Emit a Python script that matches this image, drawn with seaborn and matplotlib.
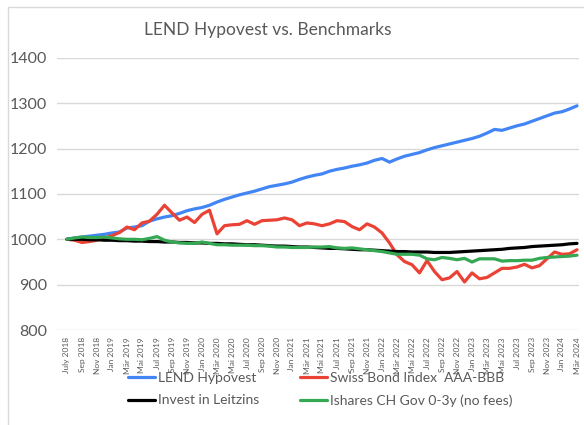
import numpy as np
import pandas as pd
import matplotlib
matplotlib.use("Agg")
import matplotlib.pyplot as plt
import seaborn as sns
from matplotlib.patches import Rectangle

# ---------------- data ----------------
tick_labels = ["July 2018", "Sep 2018", "Nov 2018",
               "Jan 2019", "Mär 2019", "Mai 2019", "Jul 2019", "Sep 2019", "Nov 2019",
               "Jan 2020", "Mär 2020", "Mai 2020", "Jul 2020", "Sep 2020", "Nov 2020",
               "Jan 2021", "Mär 2021", "Mai 2021", "Jul 2021", "Sep 2021", "Nov 2021",
               "Jan 2022", "Mär 2022", "Mai 2022", "Jul 2022", "Sep 2022", "Nov 2022",
               "Jan 2023", "Mär 2023", "Mai 2023", "Jul 2023", "Sep 2023", "Nov 2023",
               "Jan 2024", "Mär 2024"]

lend_hypovest = [1000, 1003, 1005, 1007, 1009, 1011, 1014, 1016, 1025, 1027,
                 1030, 1040, 1045, 1049, 1052, 1057, 1063, 1067, 1070, 1075,
                 1082, 1088, 1093, 1098, 1102, 1106, 1111, 1116, 1119, 1122,
                 1126, 1132, 1137, 1141, 1144, 1150, 1154, 1157, 1161, 1164,
                 1168, 1174, 1178, 1170, 1177, 1183, 1187, 1191, 1197, 1202,
                 1206, 1210, 1214, 1218, 1222, 1227, 1234, 1242, 1240, 1245,
                 1250, 1254, 1260, 1266, 1272, 1278, 1281, 1287, 1294]

swiss_bond = [1000, 998, 993, 995, 998, 1003, 1008, 1015, 1027, 1021,
              1036, 1040, 1055, 1075, 1058, 1042, 1049, 1037, 1055, 1064,
              1012, 1030, 1032, 1033, 1041, 1033, 1041, 1042, 1043, 1047,
              1043, 1030, 1036, 1034, 1030, 1034, 1041, 1039, 1028, 1021,
              1034, 1027, 1014, 992, 966, 951, 944, 926, 953, 929,
              911, 915, 929, 906, 926, 913, 916, 926, 936, 936,
              939, 945, 937, 942, 957, 972, 967, 968, 977]

leitzins = [1000, 1000, 1000, 999, 999, 998, 998, 997, 997, 996,
            996, 995, 995, 994, 994, 993, 993, 992, 992, 991,
            991, 990, 990, 989, 988, 988, 987, 986, 985, 985,
            984, 983, 983, 982, 981, 980, 980, 979, 978, 977,
            977, 976, 975, 974, 973, 973, 972, 972, 972, 971,
            971, 971, 972, 973, 974, 975, 976, 977, 978, 980,
            981, 982, 984, 985, 986, 987, 988, 990, 991]

ishares = [1000, 1003, 1005, 1004, 1004, 1005, 1003, 1001, 1000, 1000,
           999, 1002, 1006, 998, 994, 992, 991, 991, 994, 991,
           988, 988, 987, 987, 987, 986, 986, 985, 983, 983,
           982, 982, 982, 983, 983, 984, 981, 980, 981, 979,
           977, 975, 973, 970, 967, 967, 967, 965, 957, 955,
           960, 958, 955, 958, 950, 957, 957, 957, 952, 953,
           953, 954, 954, 958, 960, 961, 962, 963, 965]

series_names = ["LEND Hypovest", "Swiss Bond Index  AAA-BBB",
                "Invest in Leitzins", "Ishares CH Gov 0-3y (no fees)"]
series_colors = ["#4285F4", "#EA4335", "#000000", "#34A853"]

# ---------------- build table ----------------
n = len(lend_hypovest)
month_idx = np.arange(n)
df = pd.concat([
    pd.DataFrame({"month": month_idx, "value": vals, "series": name})
    for name, vals in zip(series_names, [lend_hypovest, swiss_bond, leitzins, ishares])
], ignore_index=True)

# ---------------- plot ----------------
sns.set_theme(style="white")
plt.rcParams["font.family"] = ["Lato", "DejaVu Sans"]

W, H = 584, 425
fig = plt.figure(figsize=(W / 100, H / 100), dpi=100)
ax = fig.add_axes([57 / W, 1 - 330.1 / H, (579 - 57) / W, (330.1 - 57.7) / H])

sns.lineplot(data=df, x="month", y="value", hue="series",
             hue_order=series_names, palette=series_colors,
             linewidth=2.3, ax=ax, legend=False, sort=False)

ax.set_ylim(800, 1400)
ax.set_yticks([800, 900, 1000, 1100, 1200, 1300, 1400])
ax.set_xlim(-(67 - 57) / 7.5, (579 - 67) / 7.5)
ax.set_xticks(month_idx[::2])
ax.set_xticklabels(tick_labels, rotation=90, fontsize=6.0, color="#595959")
ax.tick_params(axis="y", labelsize=11.5, colors="#595959", length=0, pad=7)
ax.tick_params(axis="x", length=0, pad=5)
ax.set_xlabel("")
ax.set_ylabel("")
ax.grid(axis="y", color="#d9d9d9", linewidth=1)
ax.grid(axis="x", visible=False)
for s in ax.spines.values():
    s.set_visible(False)

fig.suptitle("LEND Hypovest vs. Benchmarks", x=268 / W, y=1 - 30 / H,
             fontsize=12.5, color="#595959", va="center")

# legend: two single-column legends placed at the reference column positions
lines = ax.get_lines()[:4]
leg_kw = dict(loc="upper left", frameon=False, fontsize=10, handlelength=1.95,
              handletextpad=0.2, labelspacing=0.75, borderpad=0, borderaxespad=0,
              labelcolor="#595959")
fig.legend([lines[0], lines[2]], [series_names[0], series_names[2]],
           bbox_to_anchor=(128 / W, 1 - 372 / H), **leg_kw)
fig.legend([lines[1], lines[3]], [series_names[1], series_names[3]],
           bbox_to_anchor=(300 / W, 1 - 372 / H), **leg_kw)

# chart border
fig.patches.append(Rectangle((8 / W, -0.05), 1.2, 1 - 7 / H + 0.05,
                             transform=fig.transFigure, fill=False,
                             edgecolor="#d9d9d9", linewidth=1))

fig.savefig("out.png", dpi=100)
